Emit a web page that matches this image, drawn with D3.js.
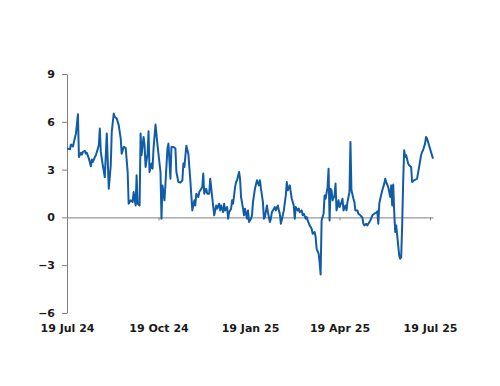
<!DOCTYPE html>
<html>
<head>
<meta charset="utf-8">
<script src="https://cdn.jsdelivr.net/npm/d3@7"></script>
<style>
  body { margin: 0; background: #fff; }
  svg { display: block; }
  .axis text { font-family: "DejaVu Sans", sans-serif; font-weight: bold; font-size: 11px; fill: #1a1a1a; }
</style>
</head>
<body>
<div id="chart"></div>
<script>
// days counted from 19 Jul 2024
var startDate = '2024-07-19';
var endDate = '2025-07-22';
var dayOffsets = [0,3,4,6,7,9,11,12,14,15,16,18,19,20,22,24,25,26,28,29,30,32,33,34,36,38,40,42,44,45,47,48,50,52,54,55,57,59,
  61,62,64,66,67,69,70,71,73,74,75,77,78,79,81,82,83,85,86,87,89,91,94,95,96,98,99,101,102,104,105,107,109,110,112,114,116,117,118,120,122,
  124,126,128,129,130,132,133,135,136,137,138,140,141,143,144,146,148,150,151,153,154,155,157,158,159,161,162,163,165,166,167,169,170,171,173,174,175,177,178,179,181,182,183,185,
  186,187,189,191,193,194,195,197,198,199,201,202,204,205,206,207,209,210,212,213,214,215,217,218,220,221,222,224,225,226,228,229,230,232,233,234,236,237,238,240,241,242,244,246,
  247,249,250,251,253,254,255,256,258,259,260,262,263,264,265,266,267,269,270,271,273,274,276,277,278,280,281,282,284,285,286,288,289,290,292,293,295,297,298,299,301,302,303,305,307,309,
  311,312,313,314,315,317,319,320,321,323,324,325,326,327,328,329,330,331,332,333,334,335,336,337,338,339,340,341,343,344,346,347,349,352,354,356,357,358,360,361,362,364,366,368];
var values = [4.32,4.28,4.57,4.45,4.74,5.26,6.48,3.79,4.05,3.94,4.11,4.17,4.0,4.05,3.69,3.21,3.63,3.48,3.79,3.9,4.11,4.53,5.58,4.11,3.27,2.53,5.26,1.8,3.27,5.37,6.52,6.31,6.2,5.79,4.95,4.0,4.42,4.36,
  2.85,0.86,1.07,0.96,1.59,0.75,2.64,0.86,0.75,5.26,3.9,5.05,4.53,3.16,4.0,5.41,2.85,3.38,3.06,4.32,5.83,4.53,2.85,-0.08,2.0,1.07,2.12,4.32,4.63,2.43,4.42,4.42,4.32,2.85,2.22,2.18,2.33,3.38,3.16,4.5,4.0,
  2.33,0.44,1.07,0.75,1.49,1.28,1.59,1.8,1.9,2.75,1.49,1.8,1.49,1.49,2.43,1.28,0.13,0.75,0.55,0.86,0.44,0.75,0.33,0.86,0.44,0.65,-0.08,0.33,0.55,1.07,0.86,1.9,2.22,2.33,2.85,2.43,1.28,0.55,0.13,0.55,-0.08,0.44,-0.29,-0.08,
  0.13,0.96,1.8,2.33,2.01,2.33,1.8,0.96,-0.08,0.02,0.75,0.33,-0.29,-0.08,0.33,0.44,0.65,0.44,0.75,0.44,0.23,-0.4,0.13,0.44,1.38,2.22,1.7,2.01,1.59,1.17,0.75,-0.08,0.65,0.44,0.55,0.33,0.44,0.13,0.23,-0.08,0.02,-0.19,-0.5,-0.71,
  -1.03,-0.92,-1.24,-1.97,-2.28,-2.81,-3.58,-0.19,0.23,1.38,1.17,1.9,3.06,-0.19,1.8,1.7,1.07,1.38,2.12,0.44,1.07,0.65,0.96,1.17,0.44,0.75,0.44,0.96,1.59,4.74,1.7,1.17,0.96,0.44,0.44,0.23,0.13,-0.02,-0.4,-0.5,-0.4,-0.5,-0.4,-0.19,0.13,0.23,
  0.3,0.38,-0.4,0.86,1.17,1.7,2.12,2.43,2.22,1.9,1.59,1.28,2.01,0.75,2.06,0.33,-0.92,-0.5,-1.13,-1.76,-2.39,-2.6,-2.5,-0.5,2.22,4.21,3.79,3.9,3.38,3.27,3.16,2.22,2.33,2.43,3.16,3.9,4.11,4.21,4.63,5.05,4.95,4.53,4.11,3.69];
var yTicks = [-6,-3,0,3,6,9];
var xTickDates = ['2024-07-19','2024-10-19','2025-01-19','2025-04-19','2025-07-19'];

var width = 500, height = 386;
var parse = d3.utcParse('%Y-%m-%d');
var start = parse(startDate);
var series = dayOffsets.map(function(d, i){
    return {date: d3.utcDay.offset(start, d), value: values[i]};
});

var x_scale = d3.scaleUtc().domain([start, parse(endDate)]).range([67, 433]);
var y_scale = d3.scaleLinear().domain([-6, 9]).range([313, 74]);

var svg = d3.select('#chart').append('svg')
    .attr('width', width)
    .attr('height', height);

// y axis
var y_axis = d3.axisLeft(y_scale).tickValues(yTicks).tickSize(5).tickSizeOuter(0).tickPadding(7);
svg.append('g').attr('class', 'axis y_axis')
    .attr('transform', 'translate(67,0)')
    .call(y_axis);

// zero line with small ticks
var x_axis = d3.axisBottom(x_scale).tickValues(xTickDates.map(parse)).tickSize(3).tickSizeOuter(0).tickFormat('');
svg.append('g').attr('class', 'axis x_axis')
    .attr('transform', 'translate(0,' + y_scale(0) + ')')
    .call(x_axis);

// date labels along the bottom
var x_labels = d3.axisBottom(x_scale).tickValues(xTickDates.map(parse)).tickSize(0).tickPadding(11)
    .tickFormat(d3.utcFormat('%d %b %y'));
svg.append('g').attr('class', 'axis x_labels')
    .attr('transform', 'translate(0,' + y_scale(-6) + ')')
    .call(x_labels)
    .call(function(g){ g.select('.domain').remove(); });

svg.selectAll('.axis path, .axis line').attr('stroke', '#808080');

var line = d3.line()
    .x(function(d){ return x_scale(d.date); })
    .y(function(d){ return y_scale(d.value); });

svg.append('path')
    .datum(series)
    .attr('fill', 'none')
    .attr('stroke', '#115ca6')
    .attr('stroke-width', 2)
    .attr('stroke-linejoin', 'round')
    .attr('d', line);
</script>
</body>
</html>
